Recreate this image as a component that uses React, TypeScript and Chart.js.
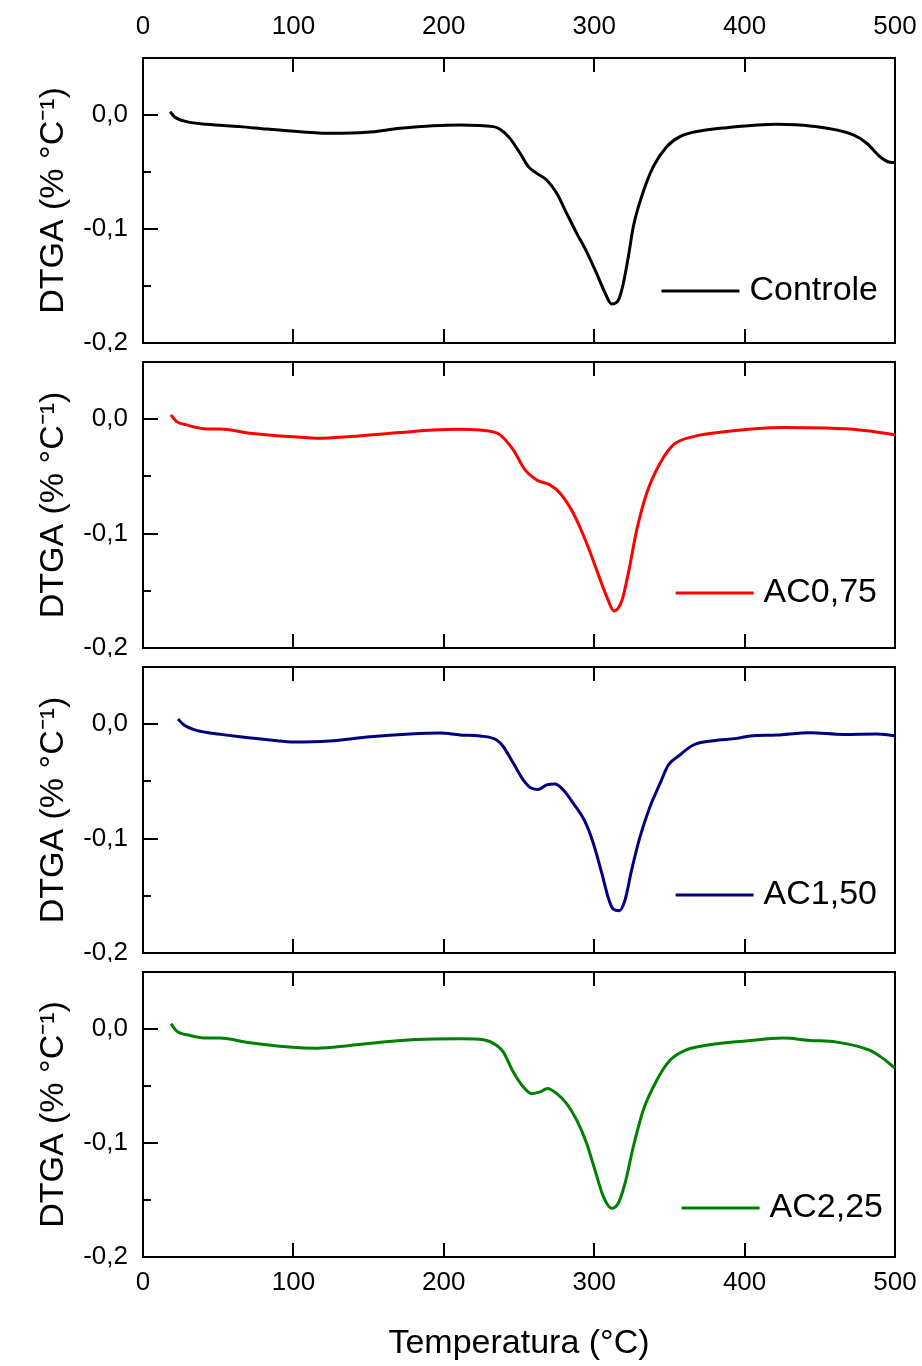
import React, { useEffect, useRef } from "react";
import { Chart, registerables } from "chart.js";

Chart.register(...registerables);

const FONT = "'Liberation Sans', Arial, Helvetica, sans-serif";

// Tick positions / labels
const X_TICKS = [0, 100, 200, 300, 400, 500];
const Y_TICKS = [-0.2, -0.1, 0.0];
const Y_MINOR_TICKS = [-0.2, -0.15, -0.1, -0.05, 0.0, 0.05];
const X_TITLE = "Temperatura (°C)";
const Y_TITLE = "DTGA (% °C⁻¹)";

// Series
const SERIES_LABELS = ["Controle", "AC0,75", "AC1,50", "AC2,25"];
const SERIES_COLORS = ["#000000", "#ff0000", "#000080", "#008000"];

const controleT = [18.0, 21.3, 29.0, 42.3, 64.5, 82.2, 104.4, 126.5, 148.7, 170.9, 193.0, 210.8, 232.9, 237.4, 244.0, 250.7, 256.2, 261.8, 268.4, 275.1, 281.7, 288.4, 295.0, 301.6, 307.2, 311.6, 316.1, 319.4, 322.7, 326.0, 331.5, 339.3, 348.2, 357.0, 370.3, 388.1, 421.3, 443.5, 472.3, 481.2, 490.0, 496.7, 500];
const controleV = [0.0029, -0.002, -0.0058, -0.0082, -0.0102, -0.0123, -0.0146, -0.0161, -0.0152, -0.0117, -0.0094, -0.0088, -0.0102, -0.0126, -0.0205, -0.0336, -0.0453, -0.0512, -0.057, -0.0687, -0.0863, -0.1038, -0.12, -0.139, -0.156, -0.1658, -0.1623, -0.1476, -0.1243, -0.098, -0.0717, -0.0453, -0.0278, -0.019, -0.014, -0.0111, -0.0082, -0.0096, -0.0175, -0.0248, -0.0366, -0.0415, -0.0418];

const ac075T = [18.6, 22.4, 29.0, 42.3, 51.2, 71.1, 104.4, 115.5, 137.6, 170.9, 193.0, 210.8, 232.9, 237.4, 246.2, 254.0, 261.8, 270.6, 277.3, 286.1, 295.0, 301.6, 308.3, 313.2, 318.3, 322.7, 328.3, 334.9, 343.8, 352.6, 365.9, 388.1, 425.7, 476.7, 500];
const ac075V = [0.0038, -0.0021, -0.005, -0.0085, -0.0085, -0.0123, -0.0158, -0.0166, -0.0152, -0.0117, -0.0094, -0.0088, -0.0111, -0.0137, -0.0268, -0.0443, -0.0531, -0.0574, -0.0647, -0.0822, -0.1084, -0.1317, -0.155, -0.1676, -0.159, -0.1346, -0.0968, -0.0647, -0.0385, -0.0225, -0.0152, -0.0108, -0.0073, -0.0094, -0.0137];

const ac150T = [23.3, 26.6, 34.6, 44.5, 49.9, 64.5, 84.4, 101, 124, 151, 177.5, 197.5, 210.8, 224.1, 235.2, 239.6, 246.2, 252.9, 258.4, 262.9, 268.4, 273.9, 279.5, 286.1, 293.9, 299.4, 305.0, 309.4, 312.7, 316.7, 320.5, 324.9, 330.5, 337.1, 343.8, 349.3, 357.0, 365.9, 379.2, 394.7, 403.6, 421.3, 443.5, 465.6, 487.8, 500];
const ac150V = [0.0045, 0.0, -0.005, -0.0077, -0.0086, -0.011, -0.0138, -0.0156, -0.0147, -0.011, -0.0086, -0.0077, -0.0094, -0.0103, -0.0138, -0.0197, -0.034, -0.0488, -0.056, -0.057, -0.0531, -0.0523, -0.0575, -0.0692, -0.0852, -0.104, -0.13, -0.152, -0.1618, -0.163, -0.1537, -0.1274, -0.0983, -0.0721, -0.0517, -0.0357, -0.0269, -0.0182, -0.0144, -0.0124, -0.0103, -0.0094, -0.0074, -0.0089, -0.0086, -0.01];

const ac225T = [18.6, 22.4, 31.3, 42.3, 51.2, 71.1, 104.4, 115.5, 137.6, 159.8, 182.0, 210.8, 226.3, 235.2, 239.6, 246.2, 252.9, 258.4, 264.0, 268.9, 275.1, 281.7, 288.4, 295.0, 300.5, 306.1, 311.6, 316.0, 320.5, 326.0, 332.6, 341.6, 350.4, 361.5, 377.0, 399.2, 425.7, 443.5, 461.2, 483.4, 492.2, 500];
const ac225V = [0.0046, -0.0019, -0.0057, -0.008, -0.008, -0.0121, -0.0165, -0.0168, -0.0144, -0.0115, -0.0092, -0.0086, -0.0095, -0.0144, -0.0203, -0.0378, -0.0509, -0.0567, -0.0552, -0.0523, -0.0567, -0.0654, -0.08, -0.1004, -0.1237, -0.147, -0.1572, -0.1528, -0.1353, -0.1033, -0.0712, -0.045, -0.0275, -0.0182, -0.0138, -0.0107, -0.008, -0.01, -0.0115, -0.0188, -0.026, -0.0343];

const SERIES_T = [controleT, ac075T, ac150T, ac225T];
const SERIES_V = [controleV, ac075V, ac150V, ac225V];

// Layout (pixels)
const PAGE_W = 922;
const PAGE_H = 1366;
const CANVAS_TOP = [0, 352, 657, 962];
const CANVAS_H = [352, 305, 305, 404];
const TOP_AXIS_H = [58, 10, 10, 10];
const BOTTOM_AXIS_H = [9, 9, 9, 109];
const LEFT_AXIS_W = 143;
const RIGHT_AXIS_W = 27;
const LEGEND_RIGHT = [17, 18, 18, 12];
const LEGEND_BOTTOM = [52, 55, 58, 49];

const noPad = (s: any) => {
  s.paddingTop = 0;
  s.paddingBottom = 0;
  s.paddingLeft = 0;
  s.paddingRight = 0;
};

const insideLegend = {
  id: "insideLegend",
  afterDatasetsDraw(chart: any, _args: any, opts: any) {
    const { ctx, chartArea } = chart;
    const ds = chart.data.datasets[0];
    ctx.save();
    ctx.font = `34px ${FONT}`;
    const w = ctx.measureText(ds.label).width;
    const textRight = chartArea.right - opts.right;
    const y = chartArea.bottom - opts.bottom;
    const textLeft = textRight - w;
    ctx.strokeStyle = ds.borderColor;
    ctx.lineWidth = 3;
    ctx.lineCap = "butt";
    ctx.beginPath();
    ctx.moveTo(textLeft - 10 - 78, y);
    ctx.lineTo(textLeft - 10, y);
    ctx.stroke();
    ctx.fillStyle = "#000";
    ctx.textAlign = "left";
    ctx.textBaseline = "middle";
    ctx.fillText(ds.label, textLeft, y);
    ctx.restore();
  },
};

function makeConfig(i: number): any {
  const first = i === 0;
  const last = i === 3;
  const tickFont = { size: 26, family: FONT };
  const titleFont = { size: 34, family: FONT };
  const gridX = { display: true, drawOnChartArea: false, drawTicks: true, tickLength: -14, color: "#000", lineWidth: 2 };
  return {
    type: "line",
    data: {
      datasets: [
        {
          label: SERIES_LABELS[i],
          data: SERIES_T[i].map((t, k) => ({ x: t, y: SERIES_V[i][k] })),
          borderColor: SERIES_COLORS[i],
          backgroundColor: SERIES_COLORS[i],
          borderWidth: 3,
          pointRadius: 0,
          cubicInterpolationMode: "monotone",
          fill: false,
          xAxisID: "x",
          yAxisID: "y",
        },
      ],
    },
    options: {
      animation: false,
      responsive: false,
      maintainAspectRatio: false,
      devicePixelRatio: 1,
      layout: { padding: 0 },
      plugins: {
        legend: { display: false },
        tooltip: { enabled: false },
        insideLegend: { right: LEGEND_RIGHT[i], bottom: LEGEND_BOTTOM[i] },
      },
      scales: {
        x: {
          type: "linear",
          position: "bottom",
          min: 0,
          max: 500,
          afterBuildTicks: (s: any) => { s.ticks = X_TICKS.map((v) => ({ value: v })); },
          afterFit: (s: any) => { s.height = BOTTOM_AXIS_H[i]; noPad(s); },
          grid: gridX,
          border: { display: true, color: "#000", width: 2 },
          ticks: { display: last, autoSkip: false, maxRotation: 0, padding: 24, color: "#000", font: tickFont },
          title: { display: last, text: X_TITLE, color: "#000", font: titleFont, padding: { top: 0, bottom: 2 } },
        },
        xTop: {
          type: "linear",
          position: "top",
          min: 0,
          max: 500,
          afterBuildTicks: (s: any) => { s.ticks = X_TICKS.map((v) => ({ value: v })); },
          afterFit: (s: any) => { s.height = TOP_AXIS_H[i]; noPad(s); },
          grid: gridX,
          border: { display: true, color: "#000", width: 2 },
          ticks: { display: first, autoSkip: false, maxRotation: 0, padding: 30, color: "#000", font: tickFont },
        },
        y: {
          type: "linear",
          position: "left",
          weight: 10,
          min: -0.2,
          max: 0.05,
          afterBuildTicks: (s: any) => { s.ticks = Y_TICKS.map((v) => ({ value: v })); },
          afterFit: (s: any) => { s.width = LEFT_AXIS_W; noPad(s); },
          grid: { display: true, drawOnChartArea: false, drawTicks: true, tickLength: -15, color: "#000", lineWidth: 2 },
          border: { display: true, color: "#000", width: 2 },
          ticks: {
            autoSkip: false,
            padding: 30,
            color: "#000",
            font: tickFont,
            callback: (v: number) => Number(v).toFixed(1).replace(".", ","),
          },
          title: { display: true, text: Y_TITLE, color: "#000", font: titleFont, padding: { top: 33, bottom: 0 } },
        },
        yMinor: {
          type: "linear",
          position: "left",
          weight: 0,
          min: -0.2,
          max: 0.05,
          afterBuildTicks: (s: any) => { s.ticks = Y_MINOR_TICKS.map((v) => ({ value: v })); },
          afterFit: (s: any) => { s.width = 0; noPad(s); },
          grid: { display: true, drawOnChartArea: false, drawTicks: true, tickLength: -8, color: "#000", lineWidth: 2 },
          border: { display: false },
          ticks: { display: false },
        },
        yRight: {
          type: "linear",
          position: "right",
          min: -0.2,
          max: 0.05,
          afterFit: (s: any) => { s.width = RIGHT_AXIS_W; noPad(s); },
          grid: { display: false },
          border: { display: true, color: "#000", width: 2 },
          ticks: { display: false },
        },
      },
    },
    plugins: [insideLegend],
  };
}

export default function App() {
  const refs = [useRef<HTMLCanvasElement>(null), useRef<HTMLCanvasElement>(null), useRef<HTMLCanvasElement>(null), useRef<HTMLCanvasElement>(null)];

  useEffect(() => {
    const charts = refs.map((r, i) => new Chart(r.current as HTMLCanvasElement, makeConfig(i)));
    return () => charts.forEach((c) => c.destroy());
  }, []);

  return (
    <div style={{ position: "absolute", left: 0, top: 0, width: PAGE_W, height: PAGE_H, overflow: "hidden", background: "#fff" }}>
      {refs.map((r, i) => (
        <canvas
          key={i}
          ref={r}
          width={PAGE_W}
          height={CANVAS_H[i]}
          style={{ position: "absolute", left: 0, top: CANVAS_TOP[i], width: PAGE_W, height: CANVAS_H[i] }}
        />
      ))}
    </div>
  );
}
